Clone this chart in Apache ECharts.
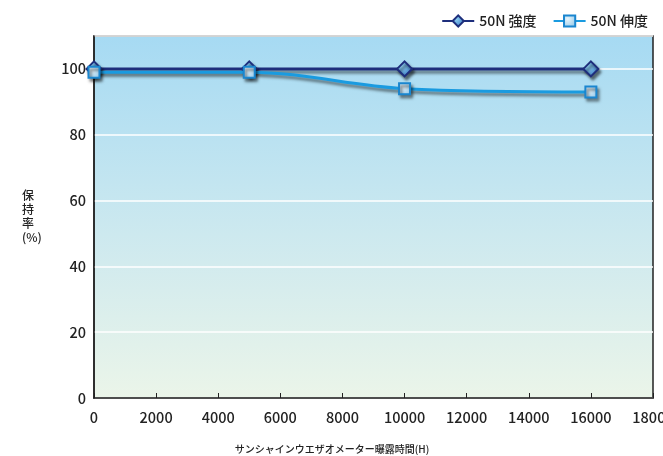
<!DOCTYPE html>
<html>
<head>
<meta charset="utf-8">
<script src="https://cdn.jsdelivr.net/npm/echarts@6/dist/echarts.min.js"></script>
<style>
  html, body { margin: 0; padding: 0; background: #ffffff; }
  #chart { width: 663px; height: 456px; }
</style>
</head>
<body>
<div id="chart"></div>
<script>
// Exposure hours on the sunshine weather-o-meter
const hours = [0, 5000, 10000, 16000];
// Retention (%) of 50N tensile strength and elongation
const strength = [100, 100, 100, 100];
const elongation = [99, 99, 94, 93];
const seriesNames = ['50N 強度', '50N 伸度'];
const xTicks = { min: 0, max: 18000, interval: 2000 };
const yTicks = { min: 0, max: 110, interval: 20 };

const FONT = '"Noto Sans CJK JP", "Noto Sans", sans-serif';
const chart = echarts.init(document.getElementById('chart'));

const lineShadow = {
  shadowColor: 'rgba(0,0,0,0.5)',
  shadowBlur: 3,
  shadowOffsetX: 2,
  shadowOffsetY: 3
};

function symbolFill(light, dark) {
  return new echarts.graphic.RadialGradient(0.35, 0.35, 0.8, [
    { offset: 0, color: light },
    { offset: 1, color: dark }
  ]);
}

chart.setOption({
  animation: false,
  textStyle: { fontFamily: FONT },
  legend: {
    right: 10,
    top: 9,
    itemWidth: 32,
    itemHeight: 14,
    itemGap: 16,
    textStyle: { fontSize: 14, color: '#222', fontFamily: FONT, fontWeight: 500 },
    data: seriesNames
  },
  grid: {
    left: 94,
    right: 10,
    top: 36,
    bottom: 58,
    outerBoundsMode: 'none',
    containLabel: false,
    show: true,
    borderColor: '#222',
    borderWidth: 1.5,
    backgroundColor: new echarts.graphic.LinearGradient(0, 0, 0, 1, [
      { offset: 0, color: '#a6daf3' },
      { offset: 0.55, color: '#cde9ef' },
      { offset: 1, color: '#ebf5e9' }
    ])
  },
  xAxis: {
    type: 'value',
    min: xTicks.min,
    max: xTicks.max,
    interval: xTicks.interval,
    axisLine: { show: true, lineStyle: { color: '#222', width: 1.5 } },
    axisTick: { show: true, inside: true, length: 5, lineStyle: { color: '#222' } },
    axisLabel: {
      fontSize: 14.5, color: '#222', margin: 12, showMaxLabel: true,
      fontWeight: 500,
      formatter: v => String(v)
    },
    splitLine: { show: false }
  },
  yAxis: {
    type: 'value',
    min: yTicks.min,
    max: yTicks.max,
    interval: yTicks.interval,
    axisLine: { show: true, lineStyle: { color: '#222', width: 1.5 } },
    axisTick: { show: false },
    axisLabel: {
      fontSize: 14.5, color: '#222', margin: 8, fontWeight: 500,
      formatter: v => (v > 100 ? '' : String(v))
    },
    splitLine: { show: true, lineStyle: { color: '#ffffff', width: 1.5 } }
  },
  graphic: [
    {
      type: 'text',
      left: 22,
      top: 188,
      style: {
        text: '保\n持\n率\n(%)',
        fontSize: 12,
        lineHeight: 14,
        fill: '#222',
        align: 'center',
        fontFamily: FONT,
        fontWeight: 500
      }
    },
    {
      type: 'text',
      x: 332,
      y: 449,
      style: {
        text: 'サンシャインウエザオメーター曝露時間(H)',
        fontSize: 10,
        fill: '#222',
        align: 'center',
        verticalAlign: 'middle',
        fontFamily: FONT,
        fontWeight: 500
      }
    }
  ],
  series: [
    {
      name: seriesNames[1],
      type: 'line',
      smooth: 0.35,
      data: hours.map((h, i) => [h, elongation[i]]),
      symbol: 'rect',
      symbolSize: 11,
      z: 3,
      lineStyle: Object.assign({ color: '#1a9be0', width: 3 }, lineShadow),
      itemStyle: Object.assign({
        color: symbolFill('#e6f4fb', '#8fc6e8'),
        borderColor: '#1a86cf',
        borderWidth: 2
      }, lineShadow)
    },
    {
      name: seriesNames[0],
      type: 'line',
      smooth: 0.35,
      data: hours.map((h, i) => [h, strength[i]]),
      symbol: 'diamond',
      symbolSize: 15,
      z: 2,
      lineStyle: Object.assign({ color: '#1e2e7c', width: 3 }, lineShadow),
      itemStyle: Object.assign({
        color: symbolFill('#8fd0f2', '#2d6fc0'),
        borderColor: '#1e2e7c',
        borderWidth: 2
      }, lineShadow)
    }
  ]
});
</script>
</body>
</html>
